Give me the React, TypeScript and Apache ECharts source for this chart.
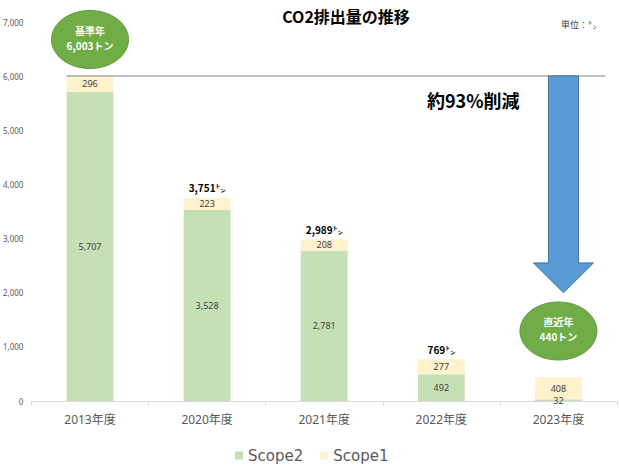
import { useEffect, useRef } from 'react';
import * as echarts from 'echarts';

const categories = ['2013年度', '2020年度', '2021年度', '2022年度', '2023年度'];
const scope2 = [5707, 3528, 2781, 492, 32];
const scope1 = [296, 223, 208, 277, 408];
const showTotal = [false, true, true, true, false];
const yTicks = { min: 0, max: 7000, interval: 1000 };
const titleText = 'CO2排出量の推移';
const unitText = '単位：㌧';
const reductionText = '約93%削減';
const baseLabel = ['基準年', '6,003トン'];
const latestLabel = ['直近年', '440トン'];

const totals = scope2.map((v, i) => v + scope1[i]);
const fmt = (n: number) => n.toLocaleString('en-US');

const NUM_FONT = '"Noto Sans", "Noto Sans CJK JP", sans-serif';
const JP_FONT = '"Noto Sans CJK JP", sans-serif';

export default function App() {
  const ref = useRef<HTMLDivElement>(null);
  useEffect(() => {
    if (!ref.current) return;
    const chart = echarts.init(ref.current, undefined, { renderer: 'svg' });
    chart.setOption({
      animation: false,
      title: {
        text: titleText,
        left: 341,
        top: 3,
        textAlign: 'center',
        textStyle: { fontSize: 16, fontWeight: 'bold', color: '#000', fontFamily: JP_FONT },
      },
      grid: { left: 30, right: 3, top: 22, bottom: 64, containLabel: false },
      legend: {
        data: ['Scope2', 'Scope1'],
        left: 230,
        top: 443,
        icon: 'rect',
        itemWidth: 8,
        itemHeight: 8,
        itemGap: 17,
        textStyle: { fontSize: 15, color: '#595959', fontFamily: '"DejaVu Sans", sans-serif' },
      },
      xAxis: {
        type: 'category',
        data: categories,
        axisLine: { lineStyle: { color: '#D9D9D9' } },
        axisTick: { show: true, length: 4, lineStyle: { color: '#D9D9D9' } },
        axisLabel: { fontSize: 12, color: '#595959', margin: 12, fontFamily: NUM_FONT },
      },
      yAxis: {
        type: 'value',
        min: yTicks.min,
        max: yTicks.max,
        interval: yTicks.interval,
        splitLine: { show: false },
        axisLine: { show: false },
        axisTick: { show: false },
        axisLabel: {
          fontSize: 8,
          color: '#595959',
          margin: 8,
          fontFamily: NUM_FONT,
          formatter: (v: number) => fmt(v),
        },
      },
      series: [
        {
          name: 'Scope2',
          type: 'bar',
          stack: 'total',
          barCategoryGap: '60%',
          data: scope2,
          itemStyle: { color: '#C5E0B4' },
          label: {
            show: true,
            position: 'inside',
            fontSize: 9,
            color: '#404040',
            fontFamily: NUM_FONT,
            formatter: (p: any) => fmt(p.value),
          },
        },
        {
          name: 'Scope1',
          type: 'bar',
          stack: 'total',
          data: scope1,
          itemStyle: { color: '#FFF2CC' },
          label: {
            show: true,
            position: 'inside',
            fontSize: 9,
            color: '#404040',
            fontFamily: NUM_FONT,
            formatter: (p: any) => fmt(p.value),
          },
        },
        {
          name: 'Total',
          type: 'bar',
          stack: 'total',
          data: showTotal.map((s) => (s ? 0 : null)),
          itemStyle: { color: 'transparent' },
          silent: true,
          label: {
            show: true,
            position: 'top',
            distance: 5,
            fontSize: 10,
            fontWeight: 'bold',
            color: '#000',
            fontFamily: JP_FONT,
            formatter: (p: any) => (showTotal[p.dataIndex] ? fmt(totals[p.dataIndex]) + '㌧' : ''),
          },
        },
      ],
    });

    const px = (cat: number, val: number) =>
      chart.convertToPixel({ gridIndex: 0 }, [cat, val]) as number[];
    const c0 = px(0, 0);
    const c1 = px(1, 0);
    const catW = c1[0] - c0[0];
    const barHalf = (catW * 0.4) / 2;
    const baseTotal = totals[0];
    const last = categories.length - 1;
    const yBase = px(0, baseTotal)[1];
    const e1 = px(0, 6677);
    const e2 = px(last, 1293);
    const arrowX = px(last, 0)[0] + 5;
    const headY = px(last, 2550)[1];
    const tipY = px(last, 2000)[1];
    const shaftHalf = 15;
    const headHalf = 30;

    const ellipse = (c: number[], lines: string[]) => [
      {
        type: 'ellipse',
        shape: { cx: c[0], cy: c[1], rx: 38.5, ry: 29 },
        style: { fill: '#70AD47', stroke: '#62993D', lineWidth: 1 },
        z: 100,
      },
      {
        type: 'text',
        x: c[0],
        y: c[1] - 9,
        style: { text: lines[0], fill: '#fff', font: `bold 10px ${JP_FONT}`, align: 'center', verticalAlign: 'middle' },
        z: 101,
      },
      {
        type: 'text',
        x: c[0],
        y: c[1] + 6,
        style: { text: lines[1], fill: '#fff', font: `bold 10px ${JP_FONT}`, align: 'center', verticalAlign: 'middle' },
        z: 101,
      },
    ];

    chart.setOption({
      graphic: [
        {
          type: 'line',
          shape: { x1: c0[0] - barHalf, y1: yBase, x2: arrowX + 42, y2: yBase },
          style: { stroke: '#7F7F7F', lineWidth: 1 },
          z: 100,
        },
        {
          type: 'polygon',
          shape: {
            points: [
              [arrowX - shaftHalf, yBase],
              [arrowX + shaftHalf, yBase],
              [arrowX + shaftHalf, headY],
              [arrowX + headHalf, headY],
              [arrowX, tipY],
              [arrowX - headHalf, headY],
              [arrowX - shaftHalf, headY],
            ],
          },
          style: { fill: '#5B9BD5', stroke: '#41719C', lineWidth: 1 },
          z: 100,
        },
        ...ellipse(e1, baseLabel),
        ...ellipse(e2, latestLabel),
        {
          type: 'text',
          x: 561,
          y: 24,
          style: { text: unitText, fill: '#404040', font: `9px ${JP_FONT}`, align: 'left', verticalAlign: 'middle' },
          z: 101,
        },
        {
          type: 'text',
          x: 427,
          y: 100,
          style: { text: reductionText, fill: '#000', font: `bold 18px ${JP_FONT}`, align: 'left', verticalAlign: 'middle' },
          z: 101,
        },
      ],
    });

    return () => chart.dispose();
  }, []);
  return (
    <div
      ref={ref}
      style={{ position: 'absolute', left: 0, top: 0, width: 620, height: 465 }}
    />
  );
}
